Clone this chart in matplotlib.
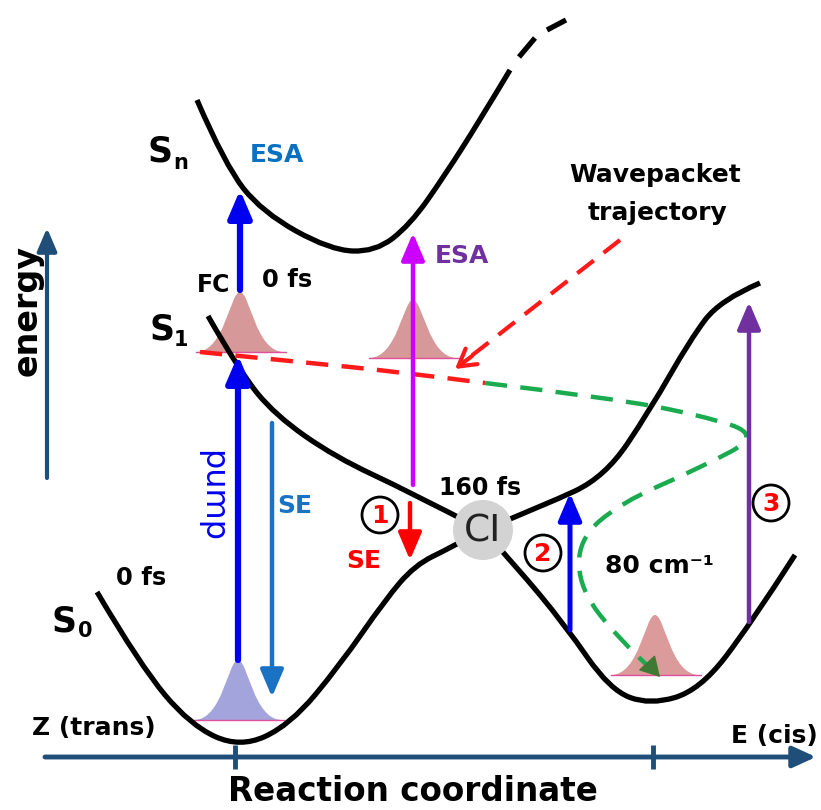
import matplotlib.pyplot as plt
from matplotlib.path import Path
from matplotlib.patches import PathPatch, Circle

# potential energy curves (control points, image pixel coords, y down)
sn_x = [197, 225, 262, 330, 375, 410, 445, 480, 510]
sn_y = [100, 165, 212, 250, 252, 225, 175, 120, 70]
sn_dash = [((519, 57), (535, 38)), ((547, 30), (566, 20))]

s1_left_x = [208, 240, 275, 335, 410, 483]
s1_left_y = [316, 372, 415, 457, 492, 530]
s1_right_x = [483, 545, 605, 650, 690, 720, 760]
s1_right_y = [530, 505, 477, 410, 340, 300, 283]

s0_left_x = [97, 140, 190, 240, 290, 340, 385, 415, 450, 483]
s0_left_y = [592, 665, 725, 748, 725, 665, 600, 565, 548, 530]
s0_right_x = [483, 515, 565, 610, 650, 700, 750, 795]
s0_right_y = [530, 565, 625, 690, 705, 690, 625, 555]

# wavepacket trajectory
traj_red_x = [200, 300, 400, 485]
traj_red_y = [352, 362, 372, 383]
traj_green_x = [485, 610, 700, 762, 700, 620, 578, 580, 620, 650]
traj_green_y = [383, 398, 415, 435, 468, 503, 540, 590, 640, 668]

# wavepackets: centre, baseline, peak
packet_x = [240, 413, 238, 655]
packet_base = [352, 358, 720, 675]
packet_peak = [292, 300, 660, 615]
packet_color = ['#cf8686', '#cf8686', '#9494d8', '#d68a8a']

# vertical transitions: x, start, tip
trans_x = [238, 240, 272, 413, 410, 570, 749]
trans_from = [660, 290, 423, 485, 503, 630, 622]
trans_to = [355, 190, 697, 233, 560, 493, 302]
trans_color = ['#0000f0', '#0000f0', '#1a72c4', '#cc00ff', '#ff0000', '#0000f0', '#7030a0']
trans_lw = [4.5, 4.5, 3.2, 3.2, 3.2, 3.6, 3.2]

fig = plt.figure(figsize=(8.21, 8.10), dpi=100)
ax = fig.add_axes([0, 0, 1, 1])
ax.set_xlim(0, 821)
ax.set_ylim(810, 0)
ax.axis('off')


def smooth(xs, ys):
    pts = list(zip(xs, ys))
    verts = [pts[0]]
    codes = [Path.MOVETO]
    for i in range(1, len(pts) - 1):
        if i < len(pts) - 2:
            end = ((pts[i][0] + pts[i + 1][0]) / 2, (pts[i][1] + pts[i + 1][1]) / 2)
        else:
            end = pts[-1]
        verts += [pts[i], end]
        codes += [Path.CURVE3, Path.CURVE3]
    return Path(verts, codes)


def bell(cx, base, peak, s=11):
    verts = [(cx - 4 * s, base), (cx - 1.4 * s, base), (cx - 0.9 * s, peak), (cx, peak),
             (cx + 0.9 * s, peak), (cx + 1.4 * s, base), (cx + 4 * s, base), (cx - 4 * s, base)]
    codes = [Path.MOVETO] + [Path.CURVE4] * 6 + [Path.CLOSEPOLY]
    return Path(verts, codes)


# curves
for xs, ys in [(sn_x, sn_y), (s1_left_x, s1_left_y), (s1_right_x, s1_right_y),
               (s0_left_x, s0_left_y), (s0_right_x, s0_right_y)]:
    ax.add_patch(PathPatch(smooth(xs, ys), fill=False, lw=3.8, color='black',
                           capstyle='butt', zorder=3))
for (a, b) in sn_dash:
    ax.plot([a[0], b[0]], [a[1], b[1]], color='black', lw=3.8, solid_capstyle='butt')

# wavepackets
for cx, b, p, c in zip(packet_x, packet_base, packet_peak, packet_color):
    ax.add_patch(PathPatch(bell(cx, b, p), facecolor=c, edgecolor='none', alpha=0.85, zorder=2))
    ax.plot([cx - 44, cx + 46], [b, b], color='#e0509a', lw=1, zorder=2)

# trajectory
ax.add_patch(PathPatch(smooth(traj_red_x, traj_red_y), fill=False, lw=3.2, color='#ff1a1a',
                       linestyle=(0, (5, 3)), zorder=4))
ax.add_patch(PathPatch(smooth(traj_green_x, traj_green_y), fill=False, lw=3.2, color='#1aab4f',
                       linestyle=(0, (5, 3)), zorder=4))
ax.annotate('', xy=(660, 677), xytext=(648, 664),
            arrowprops=dict(arrowstyle='-|>,head_length=0.7,head_width=0.4', color='#3f7a34',
                            lw=1, mutation_scale=18, shrinkA=0, shrinkB=0), zorder=4)

# pointer from label
ax.plot([620, 470], [240, 357], color='#ff1a1a', lw=3, linestyle=(0, (5, 3)))
ax.annotate('', xy=(455, 369), xytext=(472, 356),
            arrowprops=dict(arrowstyle='->,head_length=0.6,head_width=0.35', color='#ff1a1a',
                            lw=3, mutation_scale=20, shrinkA=0, shrinkB=0))

# transitions
for x, y0, y1, c, lw in zip(trans_x, trans_from, trans_to, trans_color, trans_lw):
    ax.annotate('', xy=(x, y1), xytext=(x, y0),
                arrowprops=dict(arrowstyle='-|>,head_length=0.75,head_width=0.32', color=c,
                                lw=lw, mutation_scale=22, shrinkA=0, shrinkB=0), zorder=6)

# axes arrows
axis_col = '#1f4e79'
ax.annotate('', xy=(47, 228), xytext=(47, 478),
            arrowprops=dict(arrowstyle='-|>,head_length=0.7,head_width=0.3', color=axis_col,
                            lw=3, mutation_scale=20, shrinkA=0, shrinkB=0))
ax.annotate('', xy=(816, 757), xytext=(45, 757),
            arrowprops=dict(arrowstyle='-|>,head_length=0.7,head_width=0.32', color=axis_col,
                            lw=3.5, mutation_scale=20, shrinkA=0, shrinkB=0))
for tx in [235, 653]:
    ax.plot([tx, tx], [745, 769], color=axis_col, lw=3.5, solid_capstyle='butt')

# conical intersection
ax.add_patch(Circle((483, 530), 30, facecolor='#d3d3d3', edgecolor='none', zorder=7))
ax.text(483, 532, 'CI', fontsize=27, ha='center', va='center', color='#222222', zorder=8)

# circled numbers
for (cx, cy), lab in zip([(380, 515), (543, 553), (771, 503)], ['1', '2', '3']):
    ax.add_patch(Circle((cx, cy), 18, facecolor='white', edgecolor='black', lw=2, zorder=7))
    ax.text(cx, cy + 1, lab, fontsize=18, fontweight='bold', color='#ff0000',
            ha='center', va='center', zorder=8)

bold = dict(fontweight='bold', va='baseline')
# state labels
ax.text(147, 162, 'S', fontsize=25, **bold)
ax.text(173, 169, 'n', fontsize=15, **bold)
ax.text(149, 340, 'S', fontsize=25, **bold)
ax.text(174, 346, '1', fontsize=15, **bold)
ax.text(52, 631, 'S', fontsize=25, **bold)
ax.text(78, 637, '0', fontsize=15, **bold)

ax.text(250, 162, 'ESA', fontsize=18, color='#0a70c0', **bold)
ax.text(435, 263, 'ESA', fontsize=18, color='#7030a0', **bold)
ax.text(197, 292, 'FC', fontsize=17, **bold)
ax.text(262, 287, '0 fs', fontsize=17.5, **bold)
ax.text(116, 585, '0 fs', fontsize=17.5, **bold)
ax.text(439, 495, '160 fs', fontsize=17, **bold)
ax.text(605, 573, '80 cm⁻¹', fontsize=18, **bold)
ax.text(277, 513, 'SE', fontsize=18, color='#1a72c4', **bold)
ax.text(346, 568, 'SE', fontsize=18, color='#ff0000', **bold)
ax.text(655, 182, 'Wavepacket', fontsize=18, ha='center', fontweight='bold', va='baseline')
ax.text(657, 220, 'trajectory', fontsize=18, ha='center', fontweight='bold', va='baseline')

ax.text(32, 735, 'Z (trans)', fontsize=18, **bold)
ax.text(818, 743, 'E (cis)', fontsize=18, ha='right', fontweight='bold', va='baseline')
ax.text(413, 801, 'Reaction coordinate', fontsize=23.5, ha='center', fontweight='bold', va='baseline')
ax.text(27, 310, 'energy', fontsize=24, rotation=90, ha='center', va='center', fontweight='bold')
ax.text(212, 496, 'pump', fontsize=23, rotation=-90, ha='center', va='center', color='#0000f0')

fig.savefig('out.png', dpi=100)
